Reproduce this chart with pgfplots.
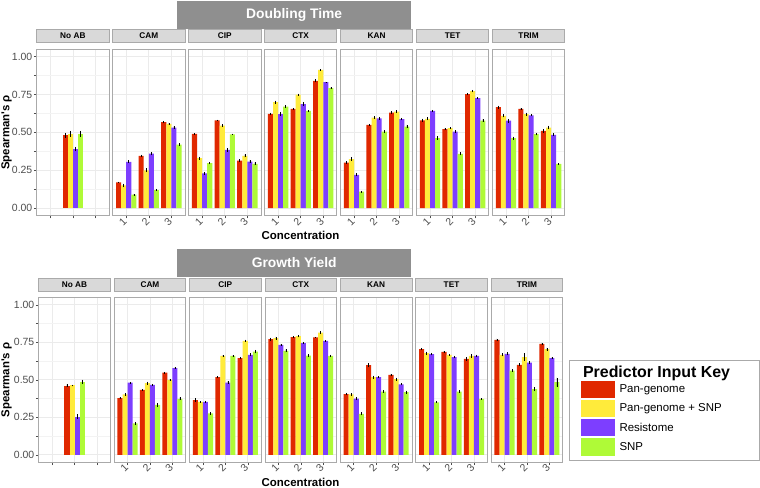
\documentclass[border=0pt]{standalone}
\usepackage{fontspec}
\setmainfont{Liberation Sans}
\usepackage{pgfplots}
\usepackage{pgfplotstable}
\pgfplotsset{compat=1.18}

\definecolor{cR}{RGB}{224,40,0}
\definecolor{cY}{RGB}{255,235,59}
\definecolor{cP}{RGB}{125,62,255}
\definecolor{cG}{RGB}{175,250,55}
\definecolor{gridc}{RGB}{235,235,235}
\definecolor{minorc}{RGB}{243,243,243}
\definecolor{borderc}{RGB}{170,170,170}
\definecolor{stripc}{RGB}{217,217,217}
\definecolor{titlec}{RGB}{143,143,143}
\definecolor{tickc}{RGB}{77,77,77}

% ---------- Doubling Time ----------
\pgfplotstableread{
c r y p g er ey ep eg
2 0.48 0.49 0.39 0.49 0.015 0.02 0.015 0.02
}\tDnoab
\pgfplotstableread{
c r y p g er ey ep eg
1 0.170 0.150 0.305 0.090 0.005 0.012 0.010 0.005
2 0.345 0.250 0.360 0.120 0.008 0.012 0.012 0.008
3 0.567 0.556 0.532 0.420 0.008 0.008 0.008 0.010
}\tDcam
\pgfplotstableread{
c r y p g er ey ep eg
1 0.490 0.330 0.230 0.297 0.005 0.010 0.010 0.008
2 0.580 0.545 0.385 0.487 0.004 0.008 0.012 0.005
3 0.314 0.345 0.307 0.292 0.010 0.010 0.012 0.010
}\tDcip
\pgfplotstableread{
c r y p g er ey ep eg
1 0.622 0.699 0.620 0.670 0.008 0.010 0.012 0.010
2 0.655 0.749 0.686 0.642 0.004 0.006 0.012 0.004
3 0.840 0.912 0.831 0.792 0.010 0.006 0.004 0.006
}\tDctx
\pgfplotstableread{
c r y p g er ey ep eg
1 0.301 0.323 0.220 0.110 0.008 0.012 0.010 0.005
2 0.549 0.598 0.592 0.505 0.008 0.008 0.010 0.010
3 0.631 0.637 0.587 0.538 0.008 0.010 0.008 0.012
}\tDkan
\pgfplotstableread{
c r y p g er ey ep eg
1 0.580 0.589 0.642 0.462 0.010 0.010 0.006 0.012
2 0.521 0.528 0.505 0.358 0.008 0.005 0.010 0.010
3 0.752 0.772 0.726 0.577 0.006 0.008 0.005 0.010
}\tDtet
\pgfplotstableread{
c r y p g er ey ep eg
1 0.666 0.609 0.577 0.462 0.010 0.010 0.012 0.010
2 0.655 0.620 0.613 0.488 0.006 0.010 0.008 0.008
3 0.510 0.532 0.483 0.292 0.012 0.012 0.010 0.006
}\tDtrim

% ---------- Growth Yield ----------
\pgfplotstableread{
c r y p g er ey ep eg
2 0.459 0.462 0.254 0.486 0.010 0.006 0.015 0.015
}\tGnoab
\pgfplotstableread{
c r y p g er ey ep eg
1 0.377 0.403 0.481 0.210 0.006 0.008 0.005 0.010
2 0.432 0.477 0.466 0.332 0.005 0.010 0.005 0.012
3 0.548 0.499 0.577 0.372 0.005 0.005 0.005 0.010
}\tGcam
\pgfplotstableread{
c r y p g er ey ep eg
1 0.364 0.352 0.352 0.276 0.012 0.006 0.006 0.008
2 0.517 0.659 0.481 0.659 0.005 0.005 0.010 0.004
3 0.644 0.760 0.666 0.688 0.008 0.008 0.010 0.012
}\tGcip
\pgfplotstableread{
c r y p g er ey ep eg
1 0.771 0.777 0.733 0.693 0.010 0.010 0.006 0.010
2 0.784 0.791 0.744 0.661 0.005 0.008 0.005 0.010
3 0.782 0.815 0.760 0.659 0.004 0.008 0.004 0.008
}\tGctx
\pgfplotstableread{
c r y p g er ey ep eg
1 0.405 0.403 0.374 0.272 0.008 0.008 0.010 0.010
2 0.597 0.517 0.517 0.421 0.012 0.010 0.008 0.008
3 0.532 0.504 0.470 0.417 0.008 0.010 0.008 0.010
}\tGkan
\pgfplotstableread{
c r y p g er ey ep eg
1 0.704 0.677 0.671 0.350 0.008 0.010 0.008 0.006
2 0.686 0.666 0.651 0.421 0.005 0.005 0.008 0.008
3 0.639 0.659 0.659 0.372 0.012 0.012 0.008 0.006
}\tGtet
\pgfplotstableread{
c r y p g er ey ep eg
1 0.766 0.666 0.673 0.561 0.008 0.010 0.010 0.008
2 0.599 0.651 0.615 0.437 0.010 0.025 0.010 0.012
3 0.739 0.704 0.644 0.484 0.008 0.010 0.006 0.030
}\tGtrim

\pgfplotsset{
  panel/.style={
    scale only axis, anchor=south west,
    xmin=0.4, xmax=3.6, ymin=-0.05, ymax=1.05,
    xtick={1,2,3}, ytick={0,0.25,0.5,0.75,1},
    minor ytick={0.125,0.375,0.625,0.875},
    grid=both,
    major grid style={draw=gridc, line width=0.7bp},
    minor grid style={draw=minorc, line width=0.4bp},
    axis line style={draw=borderc, line width=0.8bp},
    tick align=outside, major tick length=2.7bp,
    xtick pos=bottom, ytick pos=left,
    xtick style={draw=tickc, line width=0.5bp},
    ytick style={draw=none},
    ybar=0pt, bar width=0.225,
    /pgf/number format/assume math mode=true,
    ticklabel style={font=\fontsize{10.5}{11}\selectfont, text=tickc},
    xticklabels={1,2,3},
    xticklabel style={rotate=45, anchor=east, inner sep=1.5bp},
    yticklabels={},
    title style={at={(0.5,1)}, anchor=south, yshift=0pt, fill=stripc,
      draw=borderc, line width=0.8bp, inner sep=0pt, minimum height=13bp,
      font=\bfseries\fontsize{8.3}{9}\selectfont},
    error bars/y dir=both, error bars/y explicit,
    error bars/error mark=none,
    error bars/error bar style={black, line width=0.6bp},
  },
  firstpanel/.style={
    yticklabels={0.00,0.25,0.50,0.75,1.00},
    ytick style={draw=tickc, line width=0.5bp},
    yticklabel style={inner sep=1.5bp},
  },
}

\newcommand{\bars}[1]{%
  \addplot[fill=cR, draw=none] table[x=c, y=r, y error=er]{#1};
  \addplot[fill=cY, draw=none] table[x=c, y=y, y error=ey]{#1};
  \addplot[fill=cP, draw=none] table[x=c, y=p, y error=ep]{#1};
  \addplot[fill=cG, draw=none] table[x=c, y=g, y error=eg]{#1};
}
% #1 x, #2 y, #3 w, #4 h, #5 title, #6 table, #7 extra
\newcommand{\panel}[7]{%
  \begin{axis}[panel, at={(#1,#2)}, width=#3, height=#4, title={#5},
    title style={minimum width=#3}, #7]
    \bars{#6}
  \end{axis}}

\begin{document}
\begin{tikzpicture}
\path[use as bounding box] (0,0) rectangle (760bp,488bp);

% ---------------- top row ----------------
\panel{36.7bp}{272.2bp}{72.3bp}{166.8bp}{No AB}{\tDnoab}{firstpanel, xticklabels={}}
\panel{112.65bp}{272.2bp}{72.3bp}{166.8bp}{CAM}{\tDcam}{}
\panel{188.6bp}{272.2bp}{72.3bp}{166.8bp}{CIP}{\tDcip}{}
\panel{264.55bp}{272.2bp}{72.3bp}{166.8bp}{CTX}{\tDctx}{}
\panel{340.5bp}{272.2bp}{72.3bp}{166.8bp}{KAN}{\tDkan}{}
\panel{416.45bp}{272.2bp}{72.3bp}{166.8bp}{TET}{\tDtet}{}
\panel{492.4bp}{272.2bp}{72.3bp}{166.8bp}{TRIM}{\tDtrim}{}

% ---------------- bottom row ----------------
\panel{38.7bp}{25.7bp}{71.7bp}{165bp}{No AB}{\tGnoab}{firstpanel, xticklabels={}}
\panel{114.1bp}{25.7bp}{71.7bp}{165bp}{CAM}{\tGcam}{}
\panel{189.5bp}{25.7bp}{71.7bp}{165bp}{CIP}{\tGcip}{}
\panel{264.9bp}{25.7bp}{71.7bp}{165bp}{CTX}{\tGctx}{}
\panel{340.3bp}{25.7bp}{71.7bp}{165bp}{KAN}{\tGkan}{}
\panel{415.7bp}{25.7bp}{71.7bp}{165bp}{TET}{\tGtet}{}
\begin{axis}[panel, at={(491.1bp,25.7bp)}, width=71.7bp, height=165bp, title={TRIM},
    title style={minimum width=71.7bp},
    legend style={at={(1,0)}, anchor=south west, xshift=6.6bp, yshift=1.3bp,
      draw=borderc, line width=0.9bp, fill=white,
      font=\fontsize{11.5}{13}\selectfont, inner xsep=11.4bp, inner ysep=5bp,
      row sep=1.8bp, nodes={inner sep=0pt}, column sep=4.3bp},
    legend cell align=left,
    legend image code/.code={\fill[#1] (0bp,-8.7bp) rectangle (34bp,8.7bp);},
  ]
  \addlegendimage{empty legend}
  \bars{\tGtrim}
  \legend{{\makebox[128.6bp][l]{\hspace*{-36.5bp}\bfseries\fontsize{16}{18}\selectfont Predictor Input Key\rule[-12bp]{0pt}{16bp}}},Pan-genome,Pan-genome + SNP,Resistome,SNP}
\end{axis}

% ---------------- titles and labels ----------------
\node[fill=titlec, minimum width=234.3bp, minimum height=28bp, inner sep=0pt,
  text=white, font=\bfseries\fontsize{13.9}{15}\selectfont] at (294.2bp,473bp) {Doubling Time};
\node[fill=titlec, minimum width=234.3bp, minimum height=28bp, inner sep=0pt,
  text=white, font=\bfseries\fontsize{13.9}{15}\selectfont] at (294.2bp,225bp) {Growth Yield};

\node[rotate=90, font=\bfseries\fontsize{11.5}{13}\selectfont] at (6.5bp,355.6bp) {Spearman\textquotesingle s ρ};
\node[rotate=90, font=\bfseries\fontsize{11.5}{13}\selectfont] at (6.5bp,108.2bp) {Spearman\textquotesingle s ρ};
\node[font=\bfseries\fontsize{11.5}{13}\selectfont] at (300.5bp,252.2bp) {Concentration};
\node[font=\bfseries\fontsize{11.5}{13}\selectfont] at (300.5bp,6bp) {Concentration};
\end{tikzpicture}
\end{document}
